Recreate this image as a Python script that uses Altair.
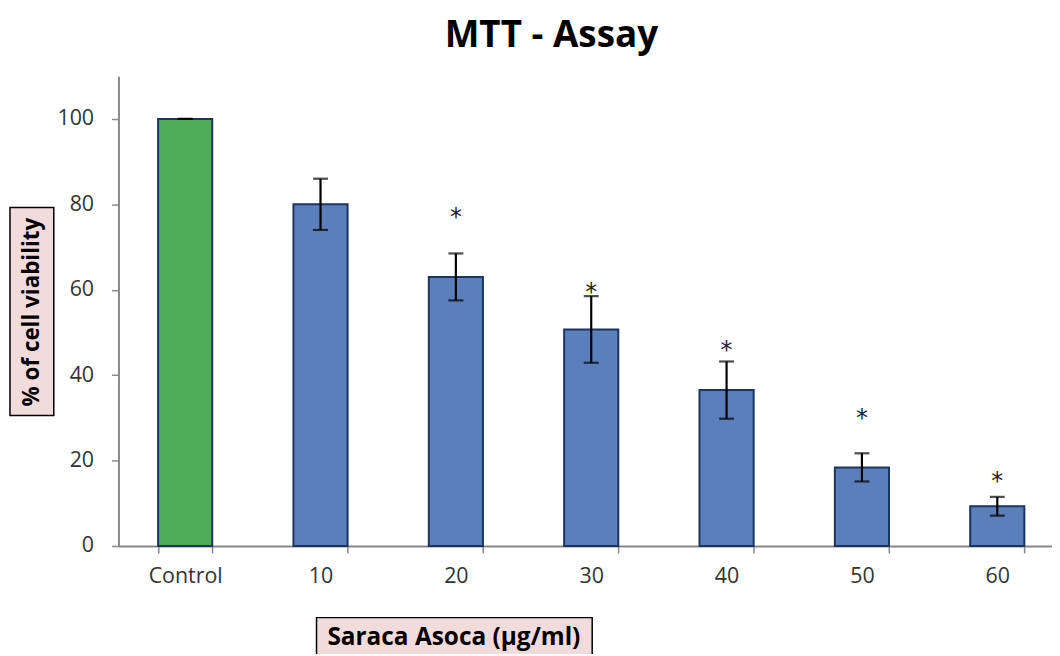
import altair as alt
import pandas as pd

# ---- data ----
categories = ["Control", "10", "20", "30", "40", "50", "60"]
viability = [100, 80, 63, 50.7, 36.5, 18.4, 9.3]
sd = [0, 6, 5.5, 7.8, 6.7, 3.3, 2.2]
star_level = [None, None, 78.1, 60.6, 47.1, 31.2, 16.3]
star_text = ["", "", "*", "*", "*", "*", "*"]
group = ["control", "treated", "treated", "treated", "treated", "treated", "treated"]

df = pd.DataFrame({
    "dose": categories,
    "viability": viability,
    "sd": sd,
    "group": group,
    "star": star_text,
    "star_y": star_level,
})
df["lo"] = df["viability"] - df["sd"]
df["hi"] = df["viability"] + df["sd"]

FONT = "Open Sans"
W, H = 938, 472

xscale = alt.Scale(domain=categories, paddingInner=0.6, paddingOuter=0.2485, align=0.589)
yscale = alt.Scale(domain=[0, 110])

x_enc = alt.X("dose:N", scale=xscale, sort=categories,
              axis=alt.Axis(title=None, labelAngle=0, tickBand="extent", tickExtra=True,
                            labelFont=FONT, labelFontSize=21.5, labelColor="#333333",
                            labelPadding=13, tickSize=7, tickColor="#888888", tickWidth=1.5,
                            domainColor="#888888", domainWidth=2))

base = alt.Chart(df)

bars = base.mark_bar(stroke="#1c3461", strokeWidth=2).encode(
    x=x_enc,
    y=alt.Y("viability:Q", scale=yscale,
            axis=alt.Axis(title=None, values=[0, 20, 40, 60, 80, 100], grid=False,
                          labelFont=FONT, labelFontSize=21.5, labelColor="#333333",
                          labelPadding=18, tickSize=7, tickColor="#888888", tickWidth=1.5,
                          domainColor="#888888", domainWidth=2)),
    color=alt.Color("group:N", scale=alt.Scale(domain=["control", "treated"],
                                               range=["#4cad55", "#5b7fbb"]), legend=None),
)

err_rule = base.mark_rule(color="black", strokeWidth=2.2).encode(
    x=alt.X("dose:N", scale=xscale, sort=categories),
    y=alt.Y("lo:Q", scale=yscale),
    y2="hi:Q",
)
cap_lo = base.mark_tick(color="black", thickness=2.2, size=15).encode(
    x=alt.X("dose:N", scale=xscale, sort=categories),
    y=alt.Y("lo:Q", scale=yscale),
)
cap_hi = base.mark_tick(color="black", thickness=2.2, size=15).encode(
    x=alt.X("dose:N", scale=xscale, sort=categories),
    y=alt.Y("hi:Q", scale=yscale),
)

stars = base.transform_filter("datum.star_y != null").mark_text(
    font="DejaVu Sans", fontSize=24, color="#222222", baseline="middle", dy=6
).encode(
    x=alt.X("dose:N", scale=xscale, sort=categories),
    y=alt.Y("star_y:Q", scale=yscale),
    text="star:N",
)

title_df = pd.DataFrame({"t": ["MTT - Assay"]})
title = alt.Chart(title_df).mark_text(
    font=FONT, fontSize=37, fontWeight="bold", color="black", align="center", baseline="middle"
).encode(x=alt.value(435), y=alt.value(-40), text="t:N")

ybox = alt.Chart(title_df).mark_rect(fill="#f2dcdb", stroke="black", strokeWidth=1.5).encode(
    x=alt.value(-109), x2=alt.value(-65), y=alt.value(132), y2=alt.value(341)
)
ytitle = alt.Chart(pd.DataFrame({"t": ["% of cell viability"]})).mark_text(
    font=FONT, fontSize=22.5, fontWeight="bold", color="black", align="center",
    baseline="middle", angle=270
).encode(x=alt.value(-87), y=alt.value(237), text="t:N")

xbox = alt.Chart(title_df).mark_rect(fill="#f2dcdb", stroke="black", strokeWidth=1.5).encode(
    x=alt.value(199), x2=alt.value(476), y=alt.value(544), y2=alt.value(600)
)
xtitle = alt.Chart(pd.DataFrame({"t": ["Saraca Asoca (µg/ml)"]})).mark_text(
    font=FONT, fontSize=24.5, fontWeight="bold", color="black", align="center", baseline="middle"
).encode(x=alt.value(337), y=alt.value(565), text="t:N")

chart = alt.layer(
    bars, err_rule, cap_lo, cap_hi, stars, title, ybox, ytitle, xbox, xtitle
).properties(
    width=W, height=H, autosize="none", background="white",
    padding={"left": 111, "top": 67, "right": 0, "bottom": 107},
).configure_view(stroke=None)

chart.save("out.html", embed_options={"renderer": "svg", "actions": False})
